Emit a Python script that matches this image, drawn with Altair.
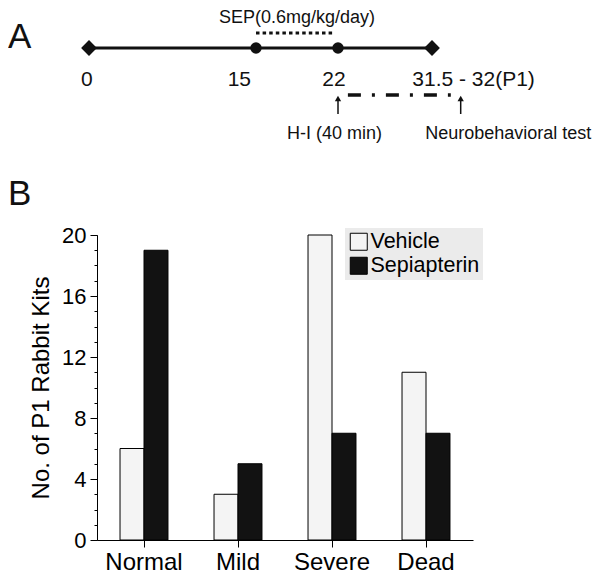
import altair as alt
import pandas as pd

FONT = "Liberation Sans"
INK = "#111111"

# ---------------- Panel A: study timeline (days of gestation) ----------------
milestone_days = [0, 31.5]          # start / birth (diamonds)
exposure_days = [15, 22]            # SEP start / H-I day (dots)
day_labels = ["0", "15", "22", "31.5 - 32(P1)"]
day_label_days = [-0.2, 13.5, 21.65, 35.7]
sep_label = "SEP(0.6mg/kg/day)"
sep_span = [15, 21.75]
sep_label_day = 18.5
hi_window = [23.0, 33.4]
event_days = [22, 34.4]
event_labels = ["H-I (40 min)", "Neurobehavioral test"]
event_label_days = [21.7, 39.2]

# vertical lanes of the schematic (1 unit = one lane step)
LANE_SEP_LABEL = 2.5
LANE_SEP = 1.5
LANE_LINE = 0
LANE_DAY_LABEL = -3.75
LANE_WINDOW = -4.7
LANE_ARROW_HEAD = -5.05
LANE_ARROW_TOP = -5.3
LANE_ARROW_BOTTOM = -6.6
LANE_EVENT_LABEL = -9.1
LANE_PANEL_B = -15.7

# ---------------- Panel B: outcome counts ----------------
categories = ["Normal", "Mild", "Severe", "Dead"]
groups = ["Vehicle", "Sepiapterin"]
vehicle = [6, 3, 20, 11]
sepiapterin = [19, 5, 7, 7]
major_ticks = [0, 4, 8, 12, 16, 20]
minor_ticks = list(range(0, 21))

PANEL_A_H = 200
GAP = 27

# ---------------- build panel A ----------------
xs = alt.Scale(domain=[0, 15, 22, 31.5], range=[-8, 159, 241, 335])
ys = alt.Scale(domain=[-16, 4])


def X(field):
    return alt.X(field, type="quantitative", scale=xs, axis=None)


def Y(field):
    return alt.Y(field, type="quantitative", scale=ys, axis=None)


main_line = alt.Chart(pd.DataFrame({"start": [milestone_days[0]], "end": [milestone_days[1]], "lane": [LANE_LINE]})).mark_rule(
    strokeWidth=3, color=INK
).encode(x=X("start"), x2="end", y=Y("lane"))

diamonds = alt.Chart(pd.DataFrame({"day": milestone_days, "lane": LANE_LINE})).mark_point(
    shape="diamond", filled=True, size=250, color=INK, opacity=1
).encode(x=X("day"), y=Y("lane"))

dots = alt.Chart(pd.DataFrame({"day": exposure_days, "lane": LANE_LINE})).mark_point(
    shape="circle", filled=True, size=130, color=INK, opacity=1
).encode(x=X("day"), y=Y("lane"))

sep_line = alt.Chart(pd.DataFrame({"start": [sep_span[0]], "end": [sep_span[1]], "lane": [LANE_SEP]})).mark_rule(
    strokeWidth=3, strokeDash=[3.5, 3.1], color=INK
).encode(x=X("start"), x2="end", y=Y("lane"))

sep_text = alt.Chart(pd.DataFrame({"day": [sep_label_day], "lane": [LANE_SEP_LABEL], "t": [sep_label]})).mark_text(
    font=FONT, fontSize=18, color=INK, align="center", baseline="alphabetic"
).encode(x=X("day"), y=Y("lane"), text="t:N")

day_text = alt.Chart(pd.DataFrame({"day": day_label_days, "lane": LANE_DAY_LABEL, "t": day_labels})).mark_text(
    font=FONT, fontSize=21, color=INK, align="center", baseline="alphabetic"
).encode(x=X("day"), y=Y("lane"), text="t:N")

window = alt.Chart(pd.DataFrame({"start": [hi_window[0]], "end": [hi_window[1]], "lane": [LANE_WINDOW]})).mark_rule(
    strokeWidth=3.5, strokeDash=[13, 11, 3, 11], color=INK
).encode(x=X("start"), x2="end", y=Y("lane"))

shafts = alt.Chart(pd.DataFrame({"day": event_days, "top": LANE_ARROW_TOP, "bottom": LANE_ARROW_BOTTOM})).mark_rule(
    strokeWidth=1.5, color=INK
).encode(x=X("day"), y=Y("top"), y2="bottom")

heads = alt.Chart(pd.DataFrame({"day": event_days, "lane": LANE_ARROW_HEAD})).mark_point(
    shape="triangle-up", filled=True, size=40, color=INK, opacity=1
).encode(x=X("day"), y=Y("lane"))

event_text = alt.Chart(pd.DataFrame({"day": event_label_days, "lane": LANE_EVENT_LABEL, "t": event_labels})).mark_text(
    font=FONT, fontSize=18, color=INK, align="center", baseline="alphabetic"
).encode(x=X("day"), y=Y("lane"), text="t:N")

panel_letters = alt.Chart(pd.DataFrame({"lane": [LANE_LINE, LANE_PANEL_B], "t": ["A", "B"]})).mark_text(
    font=FONT, fontSize=35, color=INK, align="left", baseline="alphabetic"
).encode(x=alt.value(-89), y=Y("lane"), text="t:N")

panel_a = alt.layer(
    main_line, sep_line, window, diamonds, dots, shafts, heads, sep_text, day_text, event_text, panel_letters
).properties(width=376, height=PANEL_A_H)

# ---------------- build panel B ----------------
rows = []
for i, c in enumerate(categories):
    rows.append({"category": c, "group": groups[0], "count": vehicle[i]})
    rows.append({"category": c, "group": groups[1], "count": sepiapterin[i]})
df = pd.DataFrame(rows)

y_scale = alt.Scale(domain=[0, 20], nice=False, zero=True)

bars = alt.Chart(df).mark_bar(stroke="black", strokeWidth=1, opacity=1).encode(
    x=alt.X(
        "category:N",
        sort=categories,
        scale=alt.Scale(paddingInner=0.49, paddingOuter=0.245),
        axis=alt.Axis(
            title=None, labelAngle=0, labelFontSize=24, labelFont=FONT, labelColor="black",
            tickSize=7, tickColor="black", domainColor="black", labelPadding=3, grid=False,
        ),
    ),
    xOffset=alt.XOffset("group:N", sort=groups, scale=alt.Scale(paddingInner=0, paddingOuter=0)),
    y=alt.Y(
        "count:Q",
        scale=y_scale,
        axis=alt.Axis(
            values=major_ticks, title="No. of P1 Rabbit Kits", orient="left",
            titleFont=FONT, titleFontSize=24, titleFontWeight="normal", titleColor="black", titlePadding=8,
            labelFont=FONT, labelFontSize=22, labelColor="black", labelPadding=4,
            tickSize=7, tickColor="black", domainColor="black", grid=False,
        ),
    ),
    color=alt.Color(
        "group:N",
        sort=groups,
        scale=alt.Scale(domain=groups, range=["#f4f4f4", "#121212"]),
        legend=alt.Legend(
            title=None, orient="none", legendX=248, legendY=PANEL_A_H + GAP - 7, fillColor="#ebebeb", padding=3,
            symbolType="square", symbolSize=289, symbolStrokeColor="black", symbolStrokeWidth=1,
            symbolOpacity=1, labelFont=FONT, labelFontSize=21.5, labelColor="black", labelOffset=1, rowPadding=1,
        ),
    ),
)

minor = alt.Chart(df).mark_point(opacity=0).encode(
    y=alt.Y(
        "count:Q",
        scale=y_scale,
        axis=alt.Axis(
            values=minor_ticks, orient="left", labels=False, title=None, domain=False, grid=False,
            tickSize=3, tickColor="black",
        ),
    )
)

panel_b = alt.layer(bars, minor).resolve_axis(y="independent").properties(width=376, height=305)

chart = alt.vconcat(panel_a, panel_b, spacing=GAP, bounds="flush").properties(
    padding={"left": 0, "top": 0, "right": 0, "bottom": 0}
).configure_view(stroke=None)

chart.save("out.html", embed_options={"renderer": "svg", "actions": False})
